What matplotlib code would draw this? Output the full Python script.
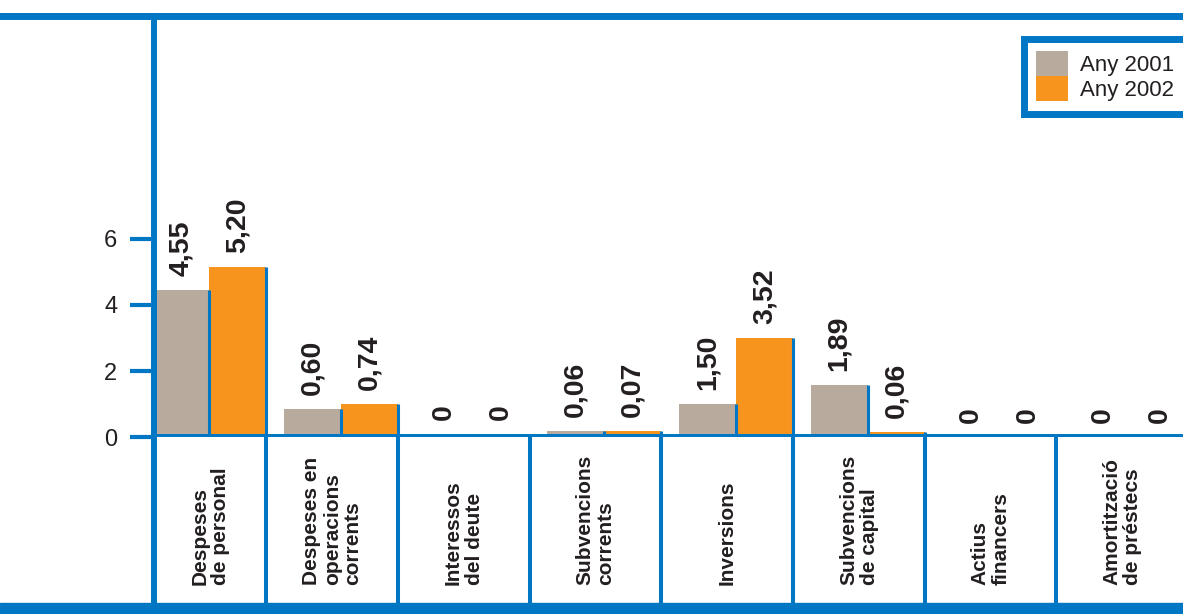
import matplotlib.pyplot as plt
from matplotlib.lines import Line2D
from matplotlib.patches import Rectangle

# categories (two/three-line labels as printed)
categories = [
    "Despeses\nde personal",
    "Despeses en\noperacions\ncorrents",
    "Interessos\ndel deute",
    "Subvencions\ncorrents",
    "Inversions",
    "Subvencions\nde capital",
    "Actius\nfinancers",
    "Amortització\nde préstecs",
]
# bar heights as drawn in the picture
h2001 = [4.45, 0.85, 0.10, 0.18, 1.00, 1.58, 0.0, 0.0]
h2002 = [5.14, 1.00, 0.10, 0.18, 3.00, 0.17, 0.0, 0.0]
# printed value labels
lab2001 = ["4,55", "0,60", "0", "0,06", "1,50", "1,89", "0", "0"]
lab2002 = ["5,20", "0,74", "0", "0,07", "3,52", "0,06", "0", "0"]
yticks = [0, 2, 4, 6]
series = ["Any 2001", "Any 2002"]

BLUE = "#0077C4"
GREY = "#B9AA9E"
ORANGE = "#F7941E"
TXT = "#231F20"

W, H = 1183, 614
fig = plt.figure(figsize=(W / 100, H / 100), dpi=100)
plt.rcParams["font.family"] = ["Liberation Sans", "DejaVu Sans"]

# main plot area: left spine at x=153.5px, baseline at y=437.3px
x_left, base_y, top_y, band_y = 153.5, 437.3, 15.5, 603
ax = fig.add_axes([x_left / W, 1 - base_y / H, 1 - x_left / W, (base_y - top_y) / H])
ax_lab = fig.add_axes([x_left / W, 1 - band_y / H, 1 - x_left / W, (band_y - base_y) / H],
                      sharex=ax)

xlim = (0.1435, 7.961)
ax.set_xlim(*xlim)
ax.set_ylim(0, 12.74)

bw = 0.433
n = len(categories)
x_edge = [i + 1 for i in range(n)]
x01 = [e - 2 * bw for e in x_edge]
x02 = [e - bw for e in x_edge]

b1 = ax.bar(x01, h2001, width=bw, align="edge", color=GREY, label=series[0], zorder=2)
b2 = ax.bar(x02, h2002, width=bw, align="edge", color=ORANGE, label=series[1], zorder=2)
# blue line on the right edge of every bar
ax.vlines([x + bw for x in x01], 0, h2001, color=BLUE, lw=2.2, zorder=3)
ax.vlines([x + bw for x in x02], 0, h2002, color=BLUE, lw=2.2, zorder=3)

for xs, hs, labs in [(x01, h2001, lab2001), (x02, h2002, lab2002)]:
    for x, h, t in zip(xs, hs, labs):
        ax.annotate(t, (x + bw / 2, h), xytext=(0, 10), textcoords="offset points",
                    rotation=90, ha="center", va="bottom", fontsize=20.5,
                    fontweight="bold", color=TXT)

for s in ["top", "right"]:
    ax.spines[s].set_visible(False)
for s in ["left", "bottom"]:
    ax.spines[s].set_color(BLUE)
    ax.spines[s].set_linewidth(4.3)
    ax.spines[s].set_zorder(4)
ax.set_xticks([])
ax.set_yticks(yticks)
ax.set_yticklabels([str(v) for v in yticks])
ax.tick_params(axis="y", direction="out", length=17, width=3, color=BLUE,
               pad=9, labelsize=17, labelcolor=TXT)

# label strip under the baseline
for s in ["top", "right", "bottom"]:
    ax_lab.spines[s].set_visible(False)
ax_lab.spines["left"].set_color(BLUE)
ax_lab.spines["left"].set_linewidth(4.3)
ax_lab.set_ylim(0, 1)
ax_lab.tick_params(left=False, bottom=False, labelleft=False, labelbottom=False)
ax_lab.vlines(x_edge, 0, 1, color=BLUE, lw=2.9)
for i, name in enumerate(categories):
    cx = (max(i, xlim[0]) + x_edge[i]) / 2
    ax_lab.text(cx, 0.109, name, rotation=90, rotation_mode="anchor",
                ha="left", va="center", multialignment="left",
                fontsize=15, fontweight="bold", color=TXT, linespacing=1.1)

# frame lines across the whole page
fig.add_artist(Line2D([0, 1], [1 - top_y / H, 1 - top_y / H], color=BLUE, lw=5,
                      transform=fig.transFigure))
fig.add_artist(Rectangle((0, 0), 1, (H - band_y) / H, color=BLUE,
                         transform=fig.transFigure))

leg = ax.legend(handles=[b1, b2], loc="upper left",
                bbox_to_anchor=(1023.5 / W, 1 - 38.5 / H), bbox_transform=fig.transFigure,
                borderaxespad=0, fontsize=16, fancybox=False, framealpha=1,
                borderpad=0.58, handlelength=1.4, handleheight=1.35,
                labelspacing=0, handletextpad=0.54)
leg.get_frame().set_edgecolor(BLUE)
leg.get_frame().set_linewidth(5)
for t in leg.get_texts():
    t.set_color(TXT)

fig.savefig("out.png", dpi=100)
